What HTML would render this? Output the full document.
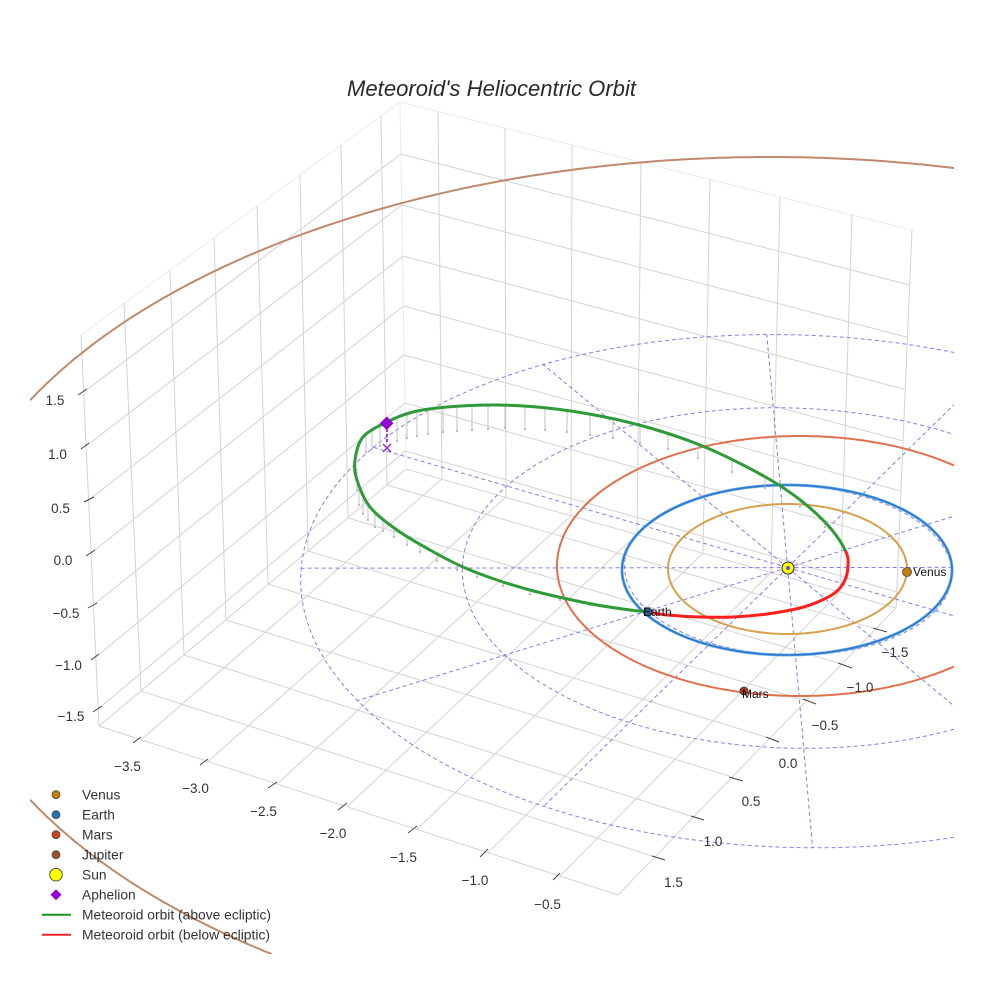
<!DOCTYPE html>
<html><head><meta charset="utf-8">
<style>
html,body{margin:0;padding:0;background:#fff;width:984px;height:984px;overflow:hidden;}
svg{display:block;}
text{font-family:"Liberation Sans",Arial,sans-serif;}
</style></head>
<body>
<svg id="s" width="984" height="984" viewBox="0 0 984 984" xmlns="http://www.w3.org/2000/svg">
<defs><clipPath id="clp"><rect x="30" y="30" width="924" height="924"/></clipPath></defs>
<rect width="984" height="984" fill="#fff"/>

<!-- box top edges (light) -->
<path d="M81 335L400 102L912 230 M400 102L406 469" stroke="#ececec" stroke-width="1" fill="none"/>
<!-- gridlines -->
<path stroke="#d3d3d3" stroke-width="1" fill="none" d="
M141 691L124 303 M184 655L170 270 M226 620L214 238 M268 584L257 206 M308 551L300 175 M348 518L341 145 M387 485L381 116
M83.6 392L401 154 M86.1 446L402 205 M88.6 500L403 256 M91 553L403.5 306 M93.4 605L404 355 M95.8 657L405 403 M98.2 709L405.5 451
M438 111.5L442 479 M505 128L506 497 M572 145L571 516 M641 162L637 534.5 M710 179.5L703 553 M780 197L771 572.6 M852 215L840 592
M401 154L909.7 285 M402 205L907.5 337.4 M403 256L905.2 389.5 M403.5 306L903.1 441 M404 355L901 491 M405 403L898.8 541.5 M405.5 451L896.7 592
M141 739.7L442 479 M208 761.5L506 497 M277 784L571 516 M347 806.8L637 534.5 M417 829.5L703 553 M488 852.7L771 572.6 M560 876L840 592
M141 691L652 856 M184 655L690.7 816 M226 620L729.3 776 M268 584L766.7 737.3 M308 551L803.3 700 M348 518L839.3 663.3 M387 485L873.3 628.3
M99 726L406 469L896 608 M99 726L618 895L896 608 M99 726L81 335 M896 608L912 230"/>

<!-- ticks -->
<path stroke="#444" stroke-width="1" fill="none" d="
M133 743L141 737 M200 765L208 759 M268 788L277 782 M338 810L347 803 M408 833L417 826 M480 857L488 849 M553 880L560 873
M652 856L665 860 M691 816L704 820 M729 777L743 781 M766 737L779 742 M803 699L816 704 M838 663L852 668 M873 628L887 632
M78 395L87 389 M81 449L89 443 M84 502L94 497 M86 556L95 550 M88 608L97 603 M91 660L99 654 M93 712L102 706"/>

<g id="scene" clip-path="url(#clp)">
  <path id="jup" fill="none" stroke="#BF896C" stroke-width="2"/>
  <g id="dash" fill="none" stroke="#6a6ae6" stroke-opacity="0.85" stroke-width="1" stroke-dasharray="4 3"></g>
  <path id="mars" fill="none" stroke="#E0704E" stroke-width="2"/>
  <path id="earth1" fill="none" stroke="#6fb0e2" stroke-width="3"/>
  <path id="earth2" fill="none" stroke="#2a78d0" stroke-width="1.6"/>
  <path id="venus" fill="none" stroke="#D7A04E" stroke-width="2"/>
  <g id="drops" stroke="#c2c2c2" stroke-width="1"></g>
  <path id="green" fill="none" stroke="#2e9a38" stroke-width="3" stroke-linecap="round"/>
  <path id="red" fill="none" stroke="#ff1e1e" stroke-width="3" stroke-linecap="round"/>
  <line x1="387" y1="429" x2="387" y2="444" stroke="#9400D3" stroke-width="1.5" stroke-dasharray="3 2"/>
  <path d="M383 444L391 452M391 444L383 452" stroke="#9b30d8" stroke-width="1.5"/>
  <path d="M386.7 416.5L393.5 423.3L386.7 430.1L379.9 423.3Z" fill="#9400D3"/>
  <circle cx="788" cy="568" r="6" fill="#ffff00" stroke="#333" stroke-width="1.1"/>
  <circle cx="788" cy="568" r="2" fill="#5a5ad0"/>
  <circle cx="907" cy="572" r="4.5" fill="#C47F12" stroke="#444" stroke-width="0.8"/>
  <circle cx="648" cy="612" r="4" fill="#1f5f9f" stroke="#222" stroke-width="0.8"/>
  <circle cx="744" cy="691" r="4" fill="#A8401A" stroke="#333" stroke-width="0.8"/>
  <text x="913" y="576" font-size="12" fill="#111">Venus</text>
  <text x="643" y="616" font-size="12" fill="#111">Earth</text>
  <text x="742" y="698" font-size="12" fill="#111">Mars</text>
</g>

<!-- tick labels -->
<g font-size="13.5" fill="#333" text-anchor="middle">
<text x="55" y="404.8">1.5</text>
<text x="57.5" y="458.8">1.0</text>
<text x="60.5" y="512.8">0.5</text>
<text x="63" y="564.8">0.0</text>
<text x="66" y="617.8">−0.5</text>
<text x="68.5" y="669.8">−1.0</text>
<text x="71" y="720.8">−1.5</text>
<text x="127.5" y="770.8">−3.5</text>
<text x="195.5" y="792.8">−3.0</text>
<text x="263.5" y="815.8">−2.5</text>
<text x="333" y="837.8">−2.0</text>
<text x="403.5" y="861.8">−1.5</text>
<text x="475" y="884.8">−1.0</text>
<text x="547.5" y="908.8">−0.5</text>
<text x="673.5" y="886.8">1.5</text>
<text x="713" y="845.8">1.0</text>
<text x="751" y="805.8">0.5</text>
<text x="788" y="767.8">0.0</text>
<text x="825" y="729.8">−0.5</text>
<text x="860" y="691.8">−1.0</text>
<text x="895" y="656.8">−1.5</text>
</g>

<!-- title -->
<text x="491.5" y="96" font-size="22" font-style="italic" fill="#2a2a2a" text-anchor="middle" textLength="289" lengthAdjust="spacingAndGlyphs">Meteoroid's Heliocentric Orbit</text>

<!-- legend -->
<g>
<circle cx="56" cy="794.7" r="4" fill="#C47F12" stroke="#444" stroke-width="0.8"/>
<circle cx="56" cy="814.7" r="4" fill="#1f77b4" stroke="#444" stroke-width="0.8"/>
<circle cx="56" cy="834.7" r="4" fill="#c9441a" stroke="#444" stroke-width="0.8"/>
<circle cx="56" cy="854.7" r="4" fill="#9a5230" stroke="#444" stroke-width="0.8"/>
<circle cx="56" cy="874.7" r="6.3" fill="#ffff00" stroke="#444" stroke-width="0.9"/>
<path d="M56 889.2L61.5 894.7L56 900.2L50.5 894.7Z" fill="#9400D3"/>
<line x1="42" y1="914.7" x2="71" y2="914.7" stroke="#1a8f1a" stroke-width="2"/>
<line x1="42" y1="934.7" x2="71" y2="934.7" stroke="#e8262a" stroke-width="2"/>
<g font-size="13.8" fill="#333">
<text x="82" y="799.3">Venus</text>
<text x="82" y="819.3">Earth</text>
<text x="82" y="839.3">Mars</text>
<text x="82" y="859.3">Jupiter</text>
<text x="82" y="879.3">Sun</text>
<text x="82" y="899.3">Aphelion</text>
<text x="82" y="919.3" textLength="189" lengthAdjust="spacingAndGlyphs">Meteoroid orbit (above ecliptic)</text>
<text x="82" y="939.3" textLength="188" lengthAdjust="spacingAndGlyphs">Meteoroid orbit (below ecliptic)</text>
</g>
</g>
</svg>
<script>
(function(){
var NS="http://www.w3.org/2000/svg";
var XMIN=30,XMAX=954,YMIN=30,YMAX=954;
function clipSeg(p,q){
 var t0=0,t1=1,dx=q[0]-p[0],dy=q[1]-p[1];
 var P=[-dx,dx,-dy,dy],Q=[p[0]-XMIN,XMAX-p[0],p[1]-YMIN,YMAX-p[1]];
 for(var i=0;i<4;i++){
  if(P[i]===0){if(Q[i]<0)return null;}
  else{var r=Q[i]/P[i];
   if(P[i]<0){if(r>t1)return null;if(r>t0)t0=r;}
   else{if(r<t0)return null;if(r<t1)t1=r;}}
 }
 return [[p[0]+t0*dx,p[1]+t0*dy],[p[0]+t1*dx,p[1]+t1*dy]];
}
function polyPath(pts){
 var d="",last=null;
 for(var i=0;i<pts.length-1;i++){
  var c=clipSeg(pts[i],pts[i+1]);
  if(!c){last=null;continue;}
  if(!last||Math.abs(last[0]-c[0][0])>0.01||Math.abs(last[1]-c[0][1])>0.01){
   d+="M"+c[0][0].toFixed(1)+" "+c[0][1].toFixed(1);}
  d+="L"+c[1][0].toFixed(1)+" "+c[1][1].toFixed(1);
  last=c[1];
 }
 return d;
}
function ellPts(cx,cy,rx,ry,n){var a=[];for(var i=0;i<=n;i++){var t=i/n*2*Math.PI;a.push([cx+rx*Math.cos(t),cy+ry*Math.sin(t)]);}return a;}
function setD(id,d){document.getElementById(id).setAttribute('d',d);}
setD('jup',polyPath(ellPts(770,600,829,443,1440)));
setD('mars',polyPath(ellPts(800,566,243,130,720)));
var ep=polyPath(ellPts(787,570,165,85,540));
setD('earth1',ep);setD('earth2',ep);
setD('venus',polyPath(ellPts(787.5,569,119.5,65,400)));

function solve(A,b){var n=b.length,i,r,c;
 for(i=0;i<n;i++){var p=i;for(r=i+1;r<n;r++)if(Math.abs(A[r][i])>Math.abs(A[p][i]))p=r;
  var t=A[i];A[i]=A[p];A[p]=t;var tb=b[i];b[i]=b[p];b[p]=tb;
  for(r=i+1;r<n;r++){var f=A[r][i]/A[i][i];for(c=i;c<n;c++)A[r][c]-=f*A[i][c];b[r]-=f*b[i];}}
 var x=[];for(i=0;i<n;i++)x.push(0);
 for(i=n-1;i>=0;i--){var s=b[i];for(c=i+1;c<n;c++)s-=A[i][c]*x[c];x[i]=s/A[i][i];}
 return x;}
var P=[[0,0,788,568],[-2.598,1.5,296,571],[-1.5,-2.598,767,333],[1.5,2.598,813,846],[0,3,545,805],
[-1.5,2.598,357,700],[-2.598,-1.5,542,363],[-3,0,383,446],[-0.866,0.5,622,568],[0.866,-0.5,952,569],
[-1.732,1,460,570],[-1,-1.732,774,408],[1,1.732,806,747],[0.626,-0.3615,907,570],[-0.5,-0.866,775,485],[0.5,0.866,796,655]];
var N=[],nb=[],i;for(i=0;i<8;i++){N.push([0,0,0,0,0,0,0,0]);nb.push(0);}
function add(r,v){for(var i=0;i<8;i++){nb[i]+=r[i]*v;for(var j=0;j<8;j++)N[i][j]+=r[i]*r[j];}}
P.forEach(function(q){var X=q[0],Y=q[1],u=(q[2]-700)/300,v=(q[3]-600)/300;
 add([X,Y,1,0,0,0,-X*u,-Y*u],u);add([0,0,0,X,Y,1,-X*v,-Y*v],v);});
var h=solve(N,nb);
function H(X,Y){var w=h[6]*X+h[7]*Y+1;return[((h[0]*X+h[1]*Y+h[2])/w)*300+700,((h[3]*X+h[4]*Y+h[5])/w)*300+600];}
var dash=document.getElementById('dash');
function mk(tag,attrs,parent){var e=document.createElementNS(NS,tag);for(var a in attrs)e.setAttribute(a,attrs[a]);parent.appendChild(e);return e;}
[1,2,3].forEach(function(r){var pts=[];for(var t=0;t<=720;t++){var a=t/2*Math.PI/180;pts.push(H(r*Math.cos(a),r*Math.sin(a)));}
 mk('path',{d:polyPath(pts)},dash);});
var c0=H(0,0);
for(var a=0;a<360;a+=30){var p=H(3*Math.cos(a*Math.PI/180),3*Math.sin(a*Math.PI/180));
 var d=polyPath([c0,p]); if(d) mk('path',{d:d},dash);}
// meteoroid loop
var L=[[648,612],[630,610],[597,605],[563,598],[530,590],[497,580],[463,567],[430,550],[397,530],[370,507],[357,480],[355,460],[363,437],[387,422],[413,412],[447,407],[497,405],[547,408],[600,416],[650,428],[700,445],[745,466],[782,487],[810,508],[832,530],[846,552],
[848,566],[845,580],[836,592],[820,601],[800,608],[767,614],[733,617],[700,617],[667,615]];
var n=L.length, GE=25;
function seg(s,e){var d="M"+L[s%n][0]+" "+L[s%n][1];
 for(var i=s;i<e;i++){var p0=L[(i-1+n)%n],p1=L[i%n],p2=L[(i+1)%n],p3=L[(i+2)%n];
  var c1=[p1[0]+(p2[0]-p0[0])/6,p1[1]+(p2[1]-p0[1])/6],c2=[p2[0]-(p3[0]-p1[0])/6,p2[1]-(p3[1]-p1[1])/6];
  d+="C"+c1[0].toFixed(1)+" "+c1[1].toFixed(1)+" "+c2[0].toFixed(1)+" "+c2[1].toFixed(1)+" "+p2[0]+" "+p2[1];}
 return d;}
setD('green',seg(0,GE));
setD('red',seg(GE,n));
var D=[[366,433,452],[372,429,449],[380,425,446],[397,418,441],[407,415,438],[417,413,436],[428,410,434],[443,408,432],[457,407,431],[472,406,430],[488,405,429],[505,405,428],[525,406,429],[545,408,430],[567,411,432],[590,414,435],[613,419,438],[640,426,443],[668,434,449],[698,444,458],[732,460,472],[765,478,488],[800,500,507],[825,523,527],
[356,452,474],[357,468,490],[359,485,505],[363,495,514],[368,503,520],[375,512,527],[383,519,531],[394,527,537],[407,536,545],[420,544,552],[437,554,561],[457,564,570],[477,572,577],[503,582,586],[530,590,594],[560,597,600],[590,603,605]];
var dr=document.getElementById('drops');
D.forEach(function(q){mk('line',{x1:q[0],y1:q[1],x2:q[0],y2:q[2]},dr);mk('circle',{cx:q[0],cy:q[2],r:1,fill:'#ababab',stroke:'none'},dr);});
})();
</script>
</body></html>
